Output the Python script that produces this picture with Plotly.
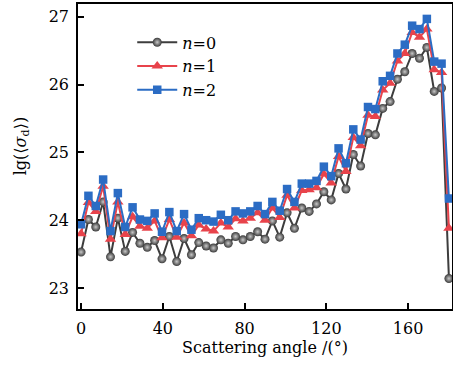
import plotly.graph_objects as go

angles = [round(3.6 * i, 1) for i in range(51)]

n0 = [23.53, 24.01, 23.90, 24.27, 23.46, 24.03, 23.54, 23.82, 23.66, 23.60,
      23.70, 23.43, 23.76, 23.39, 23.73, 23.49, 23.67, 23.62, 23.59, 23.71,
      23.66, 23.76, 23.71, 23.76, 23.83, 23.72, 23.99, 23.75, 24.11, 23.88,
      24.18, 24.13, 24.24, 24.42, 24.30, 24.69, 24.46, 24.97, 24.80, 25.28,
      25.26, 25.65, 25.75, 26.08, 26.19, 26.46, 26.39, 26.55, 25.90, 25.95,
      23.14]
n1 = [23.80, 24.26, 24.13, 24.50, 23.72, 24.27, 23.79, 24.05, 23.91, 23.88,
      23.99, 23.74, 24.01, 23.75, 23.96, 23.77, 23.93, 23.87, 23.84, 23.96,
      23.90, 24.02, 23.99, 24.03, 24.11, 24.00, 24.18, 24.04, 24.37, 24.18,
      24.44, 24.45, 24.48, 24.68, 24.55, 24.94, 24.72, 25.22, 25.10, 25.55,
      25.53, 25.92, 26.02, 26.35, 26.46, 26.77, 26.70, 26.82, 26.22, 26.18,
      23.88]
n2 = [23.94, 24.36, 24.21, 24.60, 23.84, 24.40, 23.90, 24.19, 24.01, 23.99,
      24.10, 23.83, 24.12, 23.84, 24.09, 23.86, 24.03, 24.00, 23.98, 24.08,
      24.00, 24.13, 24.10, 24.13, 24.21, 24.09, 24.27, 24.14, 24.46, 24.27,
      24.54, 24.54, 24.58, 24.79, 24.65, 25.06, 24.84, 25.34, 25.19, 25.67,
      25.64, 26.05, 26.13, 26.46, 26.59, 26.87, 26.82, 26.97, 26.34, 26.31,
      24.32]

x_ticks = [0, 40, 80, 120, 160]
y_ticks = [23, 24, 25, 26, 27]

serif = "DejaVu Serif, Liberation Serif, serif"

fig = go.Figure()
fig.add_trace(go.Scatter(
    x=angles, y=n0, mode="lines+markers", name="<i>n</i>=0",
    line=dict(color="#3d3d3d", width=2),
    marker=dict(symbol="circle", size=9, color="#3a3a3a",
                gradient=dict(type="radial", color="#c8c8c8"),
                line=dict(width=0))))
fig.add_trace(go.Scatter(
    x=angles, y=n1, mode="lines+markers", name="<i>n</i>=1",
    line=dict(color="#e8434b", width=2),
    marker=dict(symbol="triangle-up", size=10, color="#e8434b", line=dict(width=0))))
fig.add_trace(go.Scatter(
    x=angles, y=n2, mode="lines+markers", name="<i>n</i>=2",
    line=dict(color="#2b6cc4", width=2),
    marker=dict(symbol="square", size=8.5, color="#2b6cc4", line=dict(width=0))))

fig.update_layout(
    width=453, height=366,
    margin=dict(l=78, r=1, t=4, b=57, autoexpand=False),
    paper_bgcolor="white", plot_bgcolor="white",
    font=dict(family=serif, size=16, color="black"),
    showlegend=True,
    legend=dict(x=0.145, y=0.93, xanchor="left", yanchor="top",
                bgcolor="rgba(0,0,0,0)", itemwidth=40,
                font=dict(family=serif, size=16), tracegroupgap=0),
    xaxis=dict(range=[-1.5, 181.5], tickvals=x_ticks, ticks="inside", ticklen=6,
               tickwidth=1.5, tickcolor="black", showline=True, linecolor="black",
               linewidth=1.5, mirror=True, showgrid=False, zeroline=False,
               ticklabelstandoff=4,
               title=dict(text="Scattering angle /(°)", standoff=3,
                          font=dict(family=serif, size=16)),
               tickfont=dict(family=serif, size=16)),
    yaxis=dict(range=[22.69, 27.19], tickvals=y_ticks, ticks="inside", ticklen=6,
               tickwidth=1.5, tickcolor="black", showline=True, linecolor="black",
               linewidth=1.5, mirror=True, showgrid=False, zeroline=False,
               ticklabelstandoff=4,
               tickfont=dict(family=serif, size=16)),
    annotations=[dict(text="lg(⟨<i>σ</i><sub>d</sub>⟩)", textangle=-90,
                      xref="paper", yref="paper", x=-0.152, y=0.534,
                      xanchor="center", yanchor="middle", showarrow=False,
                      font=dict(family=serif, size=16))],
)

fig.write_html("out.html", config={"displayModeBar": False},
               post_script="document.body.style.margin='0';document.body.style.overflow='hidden';")
